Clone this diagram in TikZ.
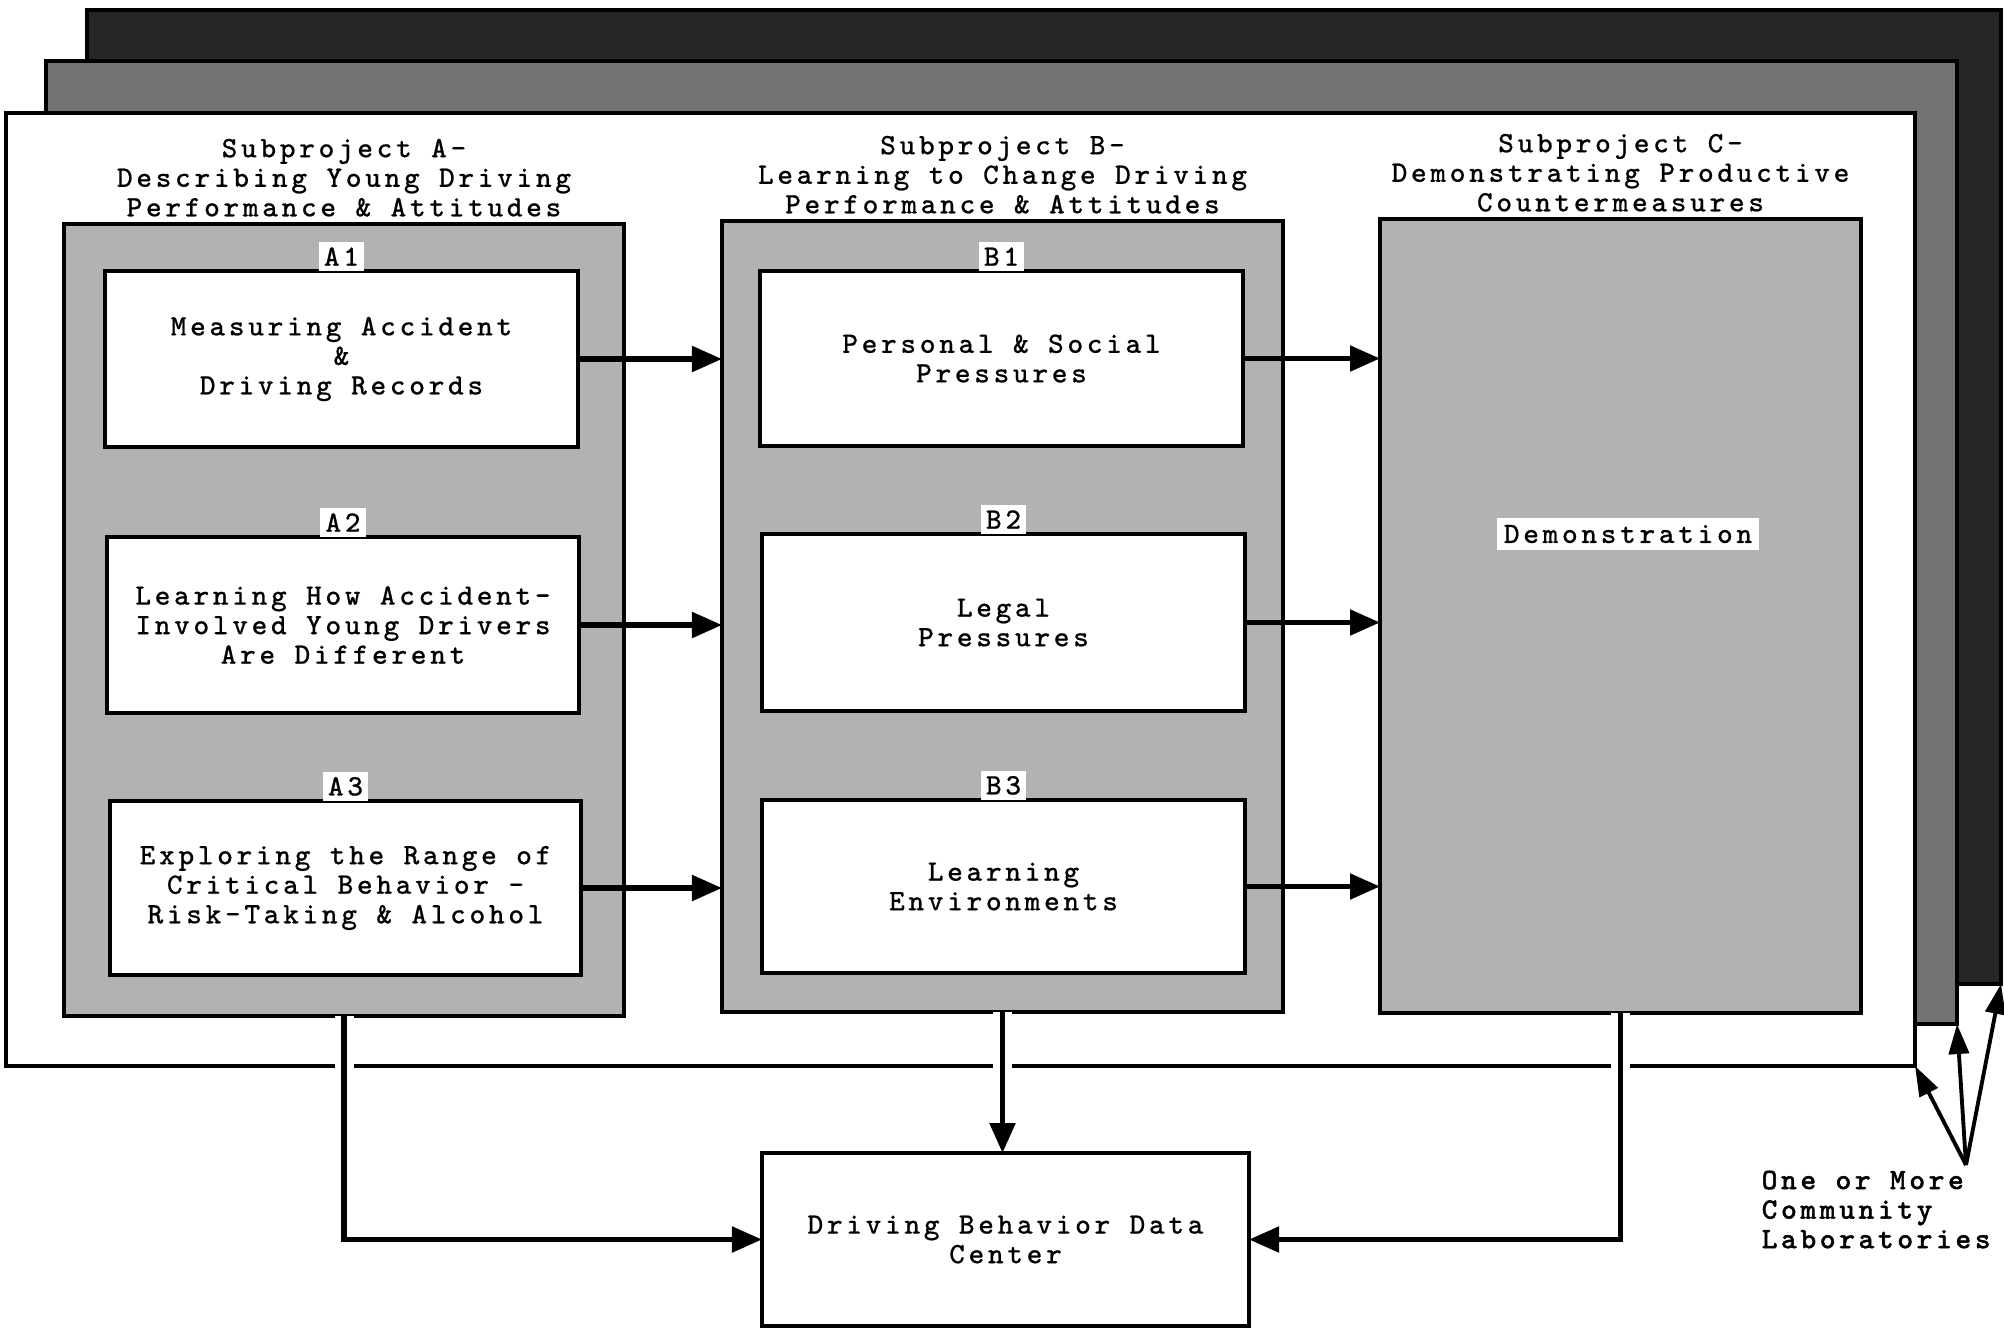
\documentclass[tikz,border=0pt]{standalone}
\usepackage{fontspec}
\setmainfont{Latin Modern Mono}[LetterSpace=12.5, FakeBold=0.6]
\newfontfamily\labfont{Latin Modern Mono}[LetterSpace=12.5, FakeBold=1.8]
\usetikzlibrary{arrows.meta}
\begin{document}
\begin{tikzpicture}[x=0.01cm,y=-0.01cm,
  font=\fontsize{8.4}{8.4}\selectfont,
  sz/.style 2 args={minimum width=#1*0.01cm, minimum height=#2*0.01cm, inner sep=0pt, outer sep=0pt},
  sheet/.style={draw=black, line width=0.9pt},
  panel/.style={draw=black, line width=1.1pt, fill=black!30},
  stepbox/.style={draw=black, line width=1.1pt, fill=white, align=center},
  tag/.style={fill=white, inner sep=1.5pt, outer sep=0pt, anchor=south},
  head/.style={align=center, anchor=south, inner sep=0pt},
  flow/.style={line width=1.5pt, -{Triangle[length=0.3cm,width=0.25cm]}},
  gap/.style={white, line width=0.19cm, shorten >=0.3cm},
  ptr/.style={line width=1.1pt, -{Triangle[length=0.3cm,width=0.2cm]}},
  ]
\useasboundingbox (0,0) rectangle (2004,1327);

% stacked sheets: community laboratories
\node[sheet, fill=black!85, sz={1914}{974}] (back) at (1044,497) {};
\node[sheet, fill=black!55, sz={1911}{963}] (mid) at (1001.5,542.5) {};
\node[sheet, fill=white, sz={1909}{953}] (front) at (960.5,589.5) {};

% subproject panels
\node[panel, sz={560}{792}] (A) at (344,620) {};
\node[panel, sz={561}{791}] (B) at (1002.5,616.5) {};
\node[panel, sz={481}{794}] (C) at (1620.5,616) {};

\node[head] (Ah) at ([yshift=1.9pt]A.north) {Subproject A-\\Describing Young Driving\\Performance \& Attitudes};
\node[head] (Bh) at ([yshift=1.9pt]B.north) {Subproject B-\\Learning to Change Driving\\Performance \& Attitudes};
\node[head] (Ch) at ([yshift=1.9pt]C.north) {Subproject C-\\Demonstrating Productive\\Countermeasures};

% studies inside the panels
\node[stepbox, sz={473}{176}] (A1) at (341.5,359) {Measuring Accident\\\&\\Driving Records};
\node[stepbox, sz={472}{176}] (A2) at (343,625) {Learning How Accident-\\Involved Young Drivers\\Are Different};
\node[stepbox, sz={471}{174}] (A3) at (345.5,888) {Exploring the Range of\\Critical Behavior -\\Risk-Taking \& Alcohol};
\node[stepbox, sz={483}{175}] (B1) at (1001.5,358.5) {Personal \& Social\\Pressures};
\node[stepbox, sz={483}{177}] (B2) at (1003.5,622.5) {Legal\\Pressures};
\node[stepbox, sz={483}{173}] (B3) at (1003.5,886.5) {Learning\\Environments};

\node[tag] (A1t) at (A1.north) {A1};
\node[tag] (A2t) at (A2.north) {A2};
\node[tag] (A3t) at (A3.north) {A3};
\node[tag] (B1t) at (B1.north) {B1};
\node[tag] (B2t) at (B2.north) {B2};
\node[tag] (B3t) at (B3.north) {B3};

\node[fill=white, inner sep=2pt] (demo) at (1628,534) {Demonstration};

% data center
\node[stepbox, sz={487}{173}] (DC) at (1005.5,1239.5) {Driving Behavior Data\\Center};

% flows between subprojects
\foreach \s in {1,2,3}{
  \draw[flow] (A\s.east) -- (A\s.east -| B.west);
  \draw[flow] (B\s.east) -- (B\s.east -| C.west);
}

% flows into the data center, bridging the sheet edge
\draw[gap] (A.south) |- (DC.west);
\draw[gap] (B.south) -- (B.south |- DC.north);
\draw[gap] (C.south) |- (DC.east);
\draw[flow] (A.south) |- (DC.west);
\draw[flow] (B.south) -- (B.south |- DC.north);
\draw[flow] (C.south) |- (DC.east);

% community laboratories
\node[anchor=north west, align=left, inner sep=0pt, font=\fontsize{8.4}{8.4}\labfont] (labs) at (1761,1170) {One or More\\Community\\Laboratories};
\coordinate (fork) at (1966,1165);
\draw[ptr] (fork) -- (front.south east);
\draw[ptr] (fork) -- (mid.south east);
\draw[ptr] (fork) -- (back.south east);
\end{tikzpicture}
\end{document}
